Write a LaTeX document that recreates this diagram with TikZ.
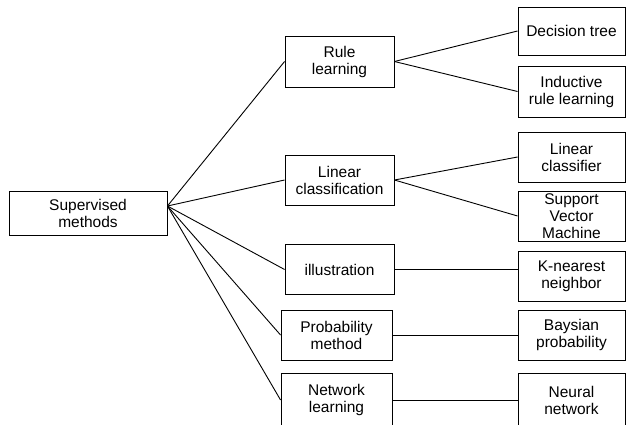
\documentclass[tikz,border=0pt]{standalone}
\usepackage{fontspec}
\setmainfont{Liberation Sans}
\tikzset{
  box/.style={draw, line width=0.9pt, align=center, inner sep=0pt,
    font=\fontsize{15.5}{17}\selectfont},
  rootbox/.style={box, minimum width=158pt, minimum height=44pt},
  methodbox/.style={box, minimum width=109pt, minimum height=50pt},
  leafbox/.style={box, minimum width=107pt, minimum height=50pt},
  link/.style={line width=0.9pt}
}
\begin{document}
\begin{tikzpicture}[x=1pt,y=-1pt]
        \useasboundingbox (0,0) rectangle (627,424);
        %Root
        \node[rootbox] (sup) at (88,213) {Supervised\\methods};
        \coordinate (hub) at ([yshift=7pt]sup.east);
        %Methods
        \node[methodbox, minimum height=51pt] (rule) at (339.5,61.5) {Rule\\learning};
        \node[methodbox] (lincls) at (339.5,180) {Linear\\classification};
        \node[methodbox] (illus) at (339.5,269.5) {illustration};
        \node[methodbox, minimum width=111pt] (prob) at (336.5,335) {Probability\\method};
        \node[methodbox, minimum width=111pt, minimum height=54pt] (netl) at (336.5,400) {Network\\learning};
        %Algorithms
        \node[leafbox, minimum height=48pt] (dtree) at (571.5,31) {Decision tree};
        \node[leafbox, minimum height=51pt] (induct) at (571.5,91.5) {Inductive\\rule learning};
        \node[leafbox] (linclf) at (571.5,157) {Linear\\classifier};
        \node[leafbox] (svm) at (571.5,216) {Support\\Vector\\Machine};
        \node[leafbox] (knn) at (571.5,276) {K-nearest\\neighbor};
        \node[leafbox] (bayes) at (571.5,335) {Baysian\\probability};
        \node[leafbox, minimum height=54pt] (neural) at (571.5,400) {Neural\\network};
        %Root to methods
        \foreach \m in {rule,lincls,illus,prob,netl}
          \draw[link] (hub) -- (\m.west);
        %Methods to algorithms
        \draw[link] (rule.east) -- (dtree.west);
        \draw[link] (rule.east) -- (induct.west);
        \draw[link] (lincls.east) -- (linclf.west);
        \draw[link] (lincls.east) -- (svm.west);
        \draw[link] (illus.east) -- (illus.east -| knn.west);
        \draw[link] (prob.east) -- (bayes.west);
        \draw[link] (netl.east) -- (neural.west);
\end{tikzpicture}
\end{document}
